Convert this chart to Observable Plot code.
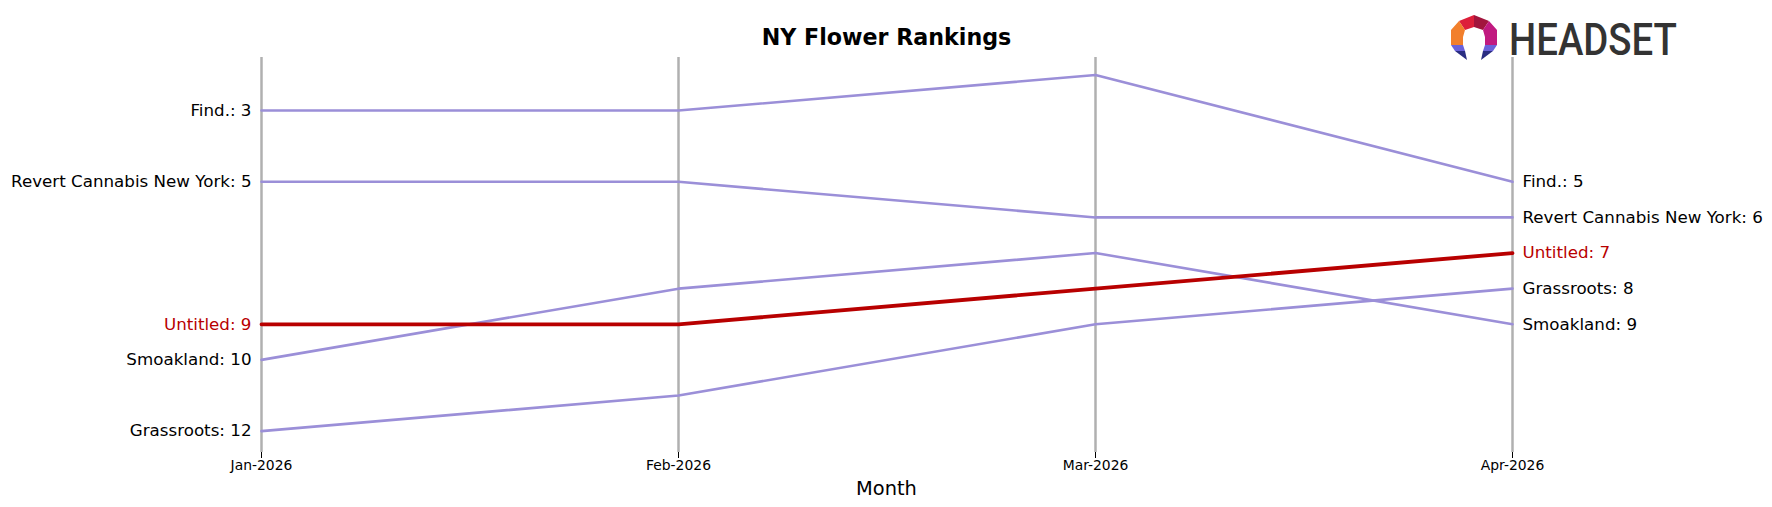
<!DOCTYPE html>
<html>
<head>
<meta charset="utf-8">
<script src="https://cdn.jsdelivr.net/npm/d3@7"></script>
<script src="https://cdn.jsdelivr.net/npm/@observablehq/plot@0.6"></script>
<style>
  html, body { margin: 0; padding: 0; background: #fff; }
  #chart svg { display: block; }
</style>
</head>
<body>
<div id="chart"></div>
<script>
const months = ["Jan-2026", "Feb-2026", "Mar-2026", "Apr-2026"];
const brands = ["Find.", "Revert Cannabis New York", "Untitled", "Smoakland", "Grassroots"];
const rankFind = [3, 3, 2, 5];
const rankRevert = [5, 5, 6, 6];
const rankUntitled = [9, 9, 8, 7];
const rankSmoakland = [10, 8, 7, 9];
const rankGrassroots = [12, 11, 9, 8];
const highlight = "Untitled";

const series = [rankFind, rankRevert, rankUntitled, rankSmoakland, rankGrassroots];
const rows = [];
brands.forEach((b, i) => months.forEach((m, j) => rows.push({brand: b, month: m, rank: series[i][j]})));
const firstRows = rows.filter(d => d.month === months[0]);
const lastRows = rows.filter(d => d.month === months[months.length - 1]);
const others = rows.filter(d => d.brand !== highlight);
const hl = rows.filter(d => d.brand === highlight);
const font = "DejaVu Sans, sans-serif";

const chart = Plot.plot({
  width: 1772,
  height: 507,
  marginLeft: 260,
  marginRight: 260,
  marginTop: 57,
  marginBottom: 55,
  style: {fontFamily: font, background: "#fff", overflow: "visible"},
  x: {type: "point", domain: months, padding: 0, label: null},
  y: {domain: [12.6, 1.51], axis: null},
  marks: [
    Plot.ruleX(months, {stroke: "#b0b0b0", strokeWidth: 2.5}),
    Plot.axisX({tickSize: 6, tickPadding: 2, fontSize: 13.9, label: null, stroke: "#000", color: "#000"}),
    Plot.line(others, {x: "month", y: "rank", z: "brand", stroke: "#9b8fd8", strokeWidth: 2.6}),
    Plot.line(hl, {x: "month", y: "rank", z: "brand", stroke: "#b80000", strokeWidth: 3.8}),
    Plot.text(firstRows, {x: "month", y: "rank", text: d => `${d.brand}: ${d.rank}`, textAnchor: "end", dx: -10, fontSize: 16.7,
      fill: d => d.brand === highlight ? "#b80000" : "#000"}),
    Plot.text(lastRows, {x: "month", y: "rank", text: d => `${d.brand}: ${d.rank}`, textAnchor: "start", dx: 10, fontSize: 16.7,
      fill: d => d.brand === highlight ? "#b80000" : "#000"}),
    Plot.text(["NY Flower Rankings"], {frameAnchor: "top", lineAnchor: "middle", dy: -20, fontSize: 22.2, fontWeight: "bold", fill: "#000"}),
    Plot.text(["Month"], {frameAnchor: "bottom", lineAnchor: "middle", dy: 36, fontSize: 19.4, fill: "#000"})
  ]
});
document.getElementById("chart").appendChild(chart);

// Logo (decoration)
const svg = d3.select(chart);
const g = svg.append("g").attr("transform", "translate(1450,13)");
const polys = [
  {p: [[9,8],[24,2],[24,14],[15,17]], c: "#dd1f3a"},
  {p: [[24,2],[39,8],[33,17],[24,14]], c: "#a2153d"},
  {p: [[9,8],[15,17],[13,24],[13,32],[1,32],[1,17]], c: "#f27f2c"},
  {p: [[39,8],[47,17],[47,32],[35,32],[35,24],[33,17]], c: "#c11a80"},
  {p: [[1,32],[13,32],[15,38],[5,38]], c: "#6a62da"},
  {p: [[5,38],[15,38],[17,47]], c: "#2a2d82"},
  {p: [[35,32],[47,32],[43,38],[33,38]], c: "#6a62da"},
  {p: [[33,38],[43,38],[31,47]], c: "#2a2d82"}
];
polys.forEach(d => g.append("polygon").attr("points", d.p.map(q => q.join(",")).join(" ")).attr("fill", d.c));
svg.append("text").attr("x", 1509).attr("y", 55).attr("text-anchor", "start").attr("font-family", "Roboto, sans-serif")
  .attr("font-weight", 500).attr("font-size", 45)
  .attr("fill", "#333").attr("textLength", 168).attr("lengthAdjust", "spacingAndGlyphs").text("HEADSET");
</script>
</body>
</html>
